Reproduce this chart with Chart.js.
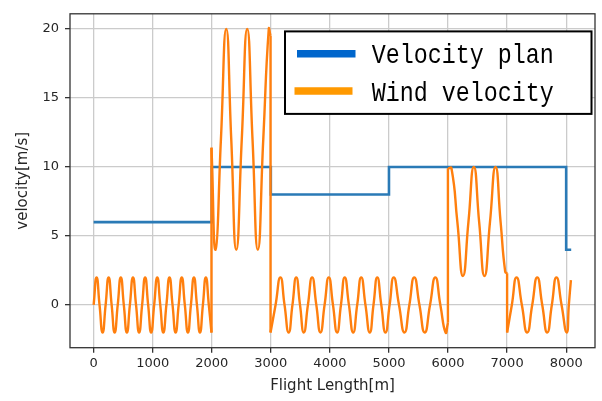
<!DOCTYPE html>
<html>
<head>
<meta charset="utf-8">
<script src="https://cdn.jsdelivr.net/npm/chart.js@4.4.1/dist/chart.umd.min.js"></script>
<style>
  html, body { margin: 0; padding: 0; background: #fff; }
</style>
</head>
<body>
<canvas id="velocityChart" width="602" height="401"></canvas>
<script>
const seriesLabels = ['Velocity plan', 'Wind velocity'];

// velocity plan, step profile along the flight path
const planX = [0, 2000, 2000, 3000, 3000, 5000, 5000, 8000, 8000, 8085];
const planY = [6, 6, 10, 10, 8, 8, 10, 10, 4, 4];

// wind velocity at peaks, crossings and troughs
// (a repeated x value is a jump)
const windX = [
    0, 50, 100, 152, 203, 254, 305, 356, 408, 460,
    511, 563, 614, 666, 718, 770, 821, 872, 923, 974,
    1025, 1077, 1128, 1180, 1232, 1284, 1336, 1388, 1440, 1492,
    1544, 1596, 1647, 1698, 1749, 1800, 1850, 1900, 1950, 1995,
    1995, 2065, 2155, 2245, 2330, 2415, 2508, 2600, 2690, 2780,
    2872, 2965, 2995,
    2995, 3080, 3162, 3232, 3302, 3366, 3430, 3494, 3558,
    3628, 3699, 3770, 3840, 3910, 3981, 4052, 4122, 4187, 4251,
    4322, 4394, 4462, 4530, 4602, 4675, 4738, 4802, 4870, 4941,
    5011, 5081, 5170, 5262, 5345, 5428, 5516, 5605, 5695, 5785,
    5870, 5958, 5998,
    5998, 6058, 6158, 6252, 6345, 6437, 6527, 6617, 6710, 6804,
    6890, 6968, 7000,
    7000, 7080, 7160, 7250, 7340, 7425, 7510, 7595, 7679, 7757,
    7835, 7922, 8009, 8045, 8080
];
const windY = [
    0, 2, 0, -2, 0, 2, 0, -2, 0, 2,
    0, -2, 0, 2, 0, -2, 0, 2, 0, -2,
    0, 2, 0, -2, 0, 2, 0, -2, 0, 2,
    0, -2, 0, 2, 0, -2, 0, 2, 0, -2,
    11.4, 4, 12, 20, 12, 4, 12, 20, 12, 4,
    12, 20, 19.5,
    -2, 0, 2, 0, -2, 0, 2, 0, -2,
    0, 2, 0, -2, 0, 2, 0, -2, 0, 2,
    0, -2, 0, 2, 0, -2, 0, 2, 0, -2,
    0, 2, 0, -2, 0, 2, 0, -2, 0, 2,
    0, -2, -1.3,
    9.9, 9.9, 6, 2.1, 6, 10, 6, 2.1, 6, 10,
    6, 2.4, 2.3,
    -2, 0, 2, 0, -2, 0, 2, 0, -2, 0,
    2, 0, -2, 0, 1.8
];

const xTicks = [0, 1000, 2000, 3000, 4000, 5000, 6000, 7000, 8000];
const yTicks = [0, 5, 10, 15, 20];

const legendColors = ['#0066cc', '#ff9900'];
const planColor = '#2a7ab6';
const windColor = '#ff7f0e';
const gridColor = '#cbcbcb';
const tickFont = { family: 'DejaVu Sans', size: 13 };
const titleFont = { family: 'DejaVu Sans', size: 15 };

// split the wind series at the jumps: smooth pieces plus straight risers
function windDatasets() {
    const pieces = [[]];
    windX.forEach((x, i) => {
        if (i > 0 && x === windX[i - 1]) pieces.push([]);
        pieces[pieces.length - 1].push({ x: x, y: windY[i] });
    });
    const sets = [];
    pieces.forEach((p, k) => {
        sets.push({ label: seriesLabels[1], data: p, borderColor: windColor, borderWidth: 2.4,
            pointRadius: 0, tension: 0.55, order: 1 });
        if (k > 0) {
            const prev = pieces[k - 1];
            sets.push({ label: seriesLabels[1], data: [prev[prev.length - 1], p[0]], borderColor: windColor,
                borderWidth: 2.4, pointRadius: 0, tension: 0, order: 1 });
        }
    });
    return sets;
}

// matplotlib style frame round the plot area
const frame = {
    id: 'frame',
    afterDatasetsDraw(chart) {
        const { ctx, chartArea: a } = chart;
        ctx.save();
        ctx.strokeStyle = '#333';
        ctx.lineWidth = 1.3;
        ctx.strokeRect(a.left, a.top, a.right - a.left, a.bottom - a.top);
        ctx.restore();
    }
};

// boxed legend in the upper right corner
const boxLegend = {
    id: 'boxLegend',
    afterDraw(chart) {
        const { ctx, chartArea: a } = chart;
        const w = 306.5, h = 82.5;
        const left = a.right - 3.5 - w, top = a.top + 17.6;
        ctx.save();
        ctx.fillStyle = '#fff';
        ctx.fillRect(left, top, w, h);
        ctx.strokeStyle = '#000';
        ctx.lineWidth = 2;
        ctx.strokeRect(left, top, w, h);
        seriesLabels.forEach((label, i) => {
            const cy = top + 22.4 + i * 37.3;
            ctx.strokeStyle = legendColors[i];
            ctx.lineWidth = 7.5;
            ctx.beginPath();
            ctx.moveTo(left + 12 - i * 2.5, cy);
            ctx.lineTo(left + 70.5 - i * 3, cy);
            ctx.stroke();
            ctx.save();
            ctx.translate(left + 86.7, cy + 9.4);
            ctx.scale(0.833, 1);
            ctx.font = '28px "Liberation Mono"';
            ctx.fillStyle = '#000';
            ctx.fillText(label, 0, 0);
            ctx.restore();
        });
        ctx.restore();
    }
};

const canvas = document.getElementById('velocityChart');

new Chart(canvas, {
    type: 'line',
    data: {
        datasets: [{
            label: seriesLabels[0],
            data: planX.map((x, i) => ({ x: x, y: planY[i] })),
            borderColor: planColor,
            borderWidth: 2.6,
            pointRadius: 0,
            tension: 0,
            order: 2
        }].concat(windDatasets())
    },
    options: {
        responsive: false,
        devicePixelRatio: 1,
        animation: false,
        layout: { padding: { top: 5.7, right: 7, left: 0, bottom: 0 } },
        plugins: {
            legend: { display: false },
            tooltip: { enabled: false }
        },
        scales: {
            x: {
                type: 'linear',
                min: -400,
                max: 8488,
                afterBuildTicks: s => { s.ticks = xTicks.map(v => ({ value: v })); },
                afterFit: s => { s.height = 53.3; },
                grid: { color: gridColor, lineWidth: 1.3, tickColor: '#333', tickLength: 5 },
                border: { display: false },
                ticks: { font: tickFont, color: '#262626', padding: 3, maxRotation: 0, callback: v => String(v) },
                title: { display: true, text: 'Flight Length[m]', font: titleFont, color: '#262626', padding: { top: 0, bottom: 6 } }
            },
            y: {
                min: -3.1,
                max: 21.1,
                afterBuildTicks: s => { s.ticks = yTicks.map(v => ({ value: v })); },
                afterFit: s => { s.width = 70; },
                grid: { color: gridColor, lineWidth: 1.3, tickColor: '#333', tickLength: 5 },
                border: { display: false },
                ticks: { font: tickFont, color: '#262626', padding: 6, callback: v => String(v) },
                title: { display: true, text: 'velocity[m/s]', font: titleFont, color: '#262626', padding: { top: 14, bottom: 0 } }
            }
        }
    },
    plugins: [frame, boxLegend]
});
</script>
</body>
</html>
